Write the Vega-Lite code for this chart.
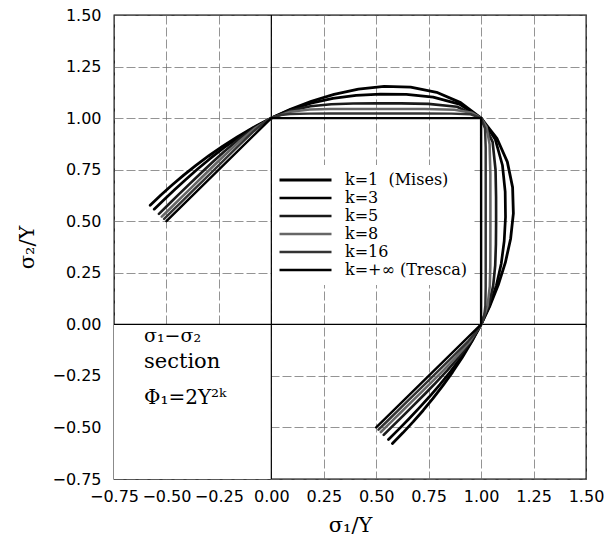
{
  "$schema": "https://vega.github.io/schema/vega-lite/v6.json",
  "width": 472,
  "height": 464,
  "autosize": "none",
  "padding": {"left": 114, "top": 15, "right": 18, "bottom": 67},
  "background": "white",
  "config": {
    "view": {"stroke": "#000", "strokeWidth": 1.3},
    "axis": {
      "grid": true, "gridColor": "#666", "gridWidth": 0.7, "gridDash": [9, 3],
      "domain": false, "ticks": false,
      "labelFont": "DejaVu Sans", "labelFontSize": 16, "labelColor": "#000",
      "labelOverlap": false, "labelFlush": false,
      "titleFont": "DejaVu Serif", "titleFontSize": 21, "titleFontWeight": "normal", "titleColor": "#000"
    }
  },
  "datasets": {
    "curves": [
      {"k":"1","x":0.5774,"y":-0.5774},{"k":"1","x":0.6271,"y":-0.5262},{"k":"1","x":0.6757,"y":-0.4731},{"k":"1","x":0.7235,"y":-0.4177},{"k":"1","x":0.7707,"y":-0.3594},{"k":"1","x":0.8175,"y":-0.2975},{"k":"1","x":0.8640,"y":-0.2315},{"k":"1","x":0.9101,"y":-0.1605},{"k":"1","x":0.9556,"y":-0.0836},{"k":"1","x":1,"y":0},{"k":"1","x":1.0425,"y":0.0912},{"k":"1","x":1.0816,"y":0.1907},{"k":"1","x":1.1154,"y":0.2989},{"k":"1","x":1.1407,"y":0.4152},{"k":"1","x":1.1538,"y":0.5380},{"k":"1","x":1.1501,"y":0.6640},{"k":"1","x":1.1250,"y":0.7878},{"k":"1","x":1.0752,"y":0.9022},{"k":"1","x":1,"y":1},
      {"k":"1","x":0.9022,"y":1.0752},{"k":"1","x":0.7878,"y":1.1250},{"k":"1","x":0.6640,"y":1.1501},{"k":"1","x":0.5380,"y":1.1538},{"k":"1","x":0.4152,"y":1.1407},{"k":"1","x":0.2989,"y":1.1154},{"k":"1","x":0.1907,"y":1.0816},{"k":"1","x":0.0912,"y":1.0425},{"k":"1","x":0,"y":1},{"k":"1","x":-0.0836,"y":0.9556},{"k":"1","x":-0.1605,"y":0.9101},{"k":"1","x":-0.2315,"y":0.8640},{"k":"1","x":-0.2975,"y":0.8175},{"k":"1","x":-0.3594,"y":0.7707},{"k":"1","x":-0.4177,"y":0.7235},{"k":"1","x":-0.4731,"y":0.6757},{"k":"1","x":-0.5262,"y":0.6271},{"k":"1","x":-0.5774,"y":0.5774},

      {"k":"3","x":0.5584,"y":-0.5584},{"k":"3","x":0.6069,"y":-0.5092},{"k":"3","x":0.6552,"y":-0.4588},{"k":"3","x":0.7039,"y":-0.4064},{"k":"3","x":0.7533,"y":-0.3513},{"k":"3","x":0.8033,"y":-0.2924},{"k":"3","x":0.8540,"y":-0.2288},{"k":"3","x":0.9046,"y":-0.1595},{"k":"3","x":0.9539,"y":-0.0835},{"k":"3","x":1,"y":0},{"k":"3","x":1.0404,"y":0.0910},{"k":"3","x":1.0728,"y":0.1892},{"k":"3","x":1.0959,"y":0.2937},{"k":"3","x":1.1101,"y":0.4041},{"k":"3","x":1.1163,"y":0.5206},{"k":"3","x":1.1147,"y":0.6436},{"k":"3","x":1.1017,"y":0.7714},{"k":"3","x":1.0678,"y":0.8960},{"k":"3","x":1,"y":1},
      {"k":"3","x":0.8960,"y":1.0678},{"k":"3","x":0.7714,"y":1.1017},{"k":"3","x":0.6436,"y":1.1147},{"k":"3","x":0.5206,"y":1.1163},{"k":"3","x":0.4041,"y":1.1101},{"k":"3","x":0.2937,"y":1.0959},{"k":"3","x":0.1892,"y":1.0728},{"k":"3","x":0.0910,"y":1.0404},{"k":"3","x":0,"y":1},{"k":"3","x":-0.0835,"y":0.9539},{"k":"3","x":-0.1595,"y":0.9046},{"k":"3","x":-0.2288,"y":0.8540},{"k":"3","x":-0.2924,"y":0.8033},{"k":"3","x":-0.3513,"y":0.7533},{"k":"3","x":-0.4064,"y":0.7039},{"k":"3","x":-0.4588,"y":0.6552},{"k":"3","x":-0.5092,"y":0.6069},{"k":"3","x":-0.5584,"y":0.5584},

      {"k":"5","x":0.5358,"y":-0.5358},{"k":"5","x":0.5826,"y":-0.4889},{"k":"5","x":0.6301,"y":-0.4412},{"k":"5","x":0.6788,"y":-0.3919},{"k":"5","x":0.7294,"y":-0.3401},{"k":"5","x":0.7823,"y":-0.2847},{"k":"5","x":0.8378,"y":-0.2245},{"k":"5","x":0.8949,"y":-0.1578},{"k":"5","x":0.9508,"y":-0.0832},{"k":"5","x":1,"y":0},{"k":"5","x":1.0363,"y":0.0907},{"k":"5","x":1.0575,"y":0.1865},{"k":"5","x":1.0672,"y":0.2859},{"k":"5","x":1.0706,"y":0.3897},{"k":"5","x":1.0715,"y":0.4997},{"k":"5","x":1.0713,"y":0.6185},{"k":"5","x":1.0688,"y":0.7484},{"k":"5","x":1.0548,"y":0.8851},{"k":"5","x":1,"y":1},
      {"k":"5","x":0.8851,"y":1.0548},{"k":"5","x":0.7484,"y":1.0688},{"k":"5","x":0.6185,"y":1.0713},{"k":"5","x":0.4997,"y":1.0715},{"k":"5","x":0.3897,"y":1.0706},{"k":"5","x":0.2859,"y":1.0672},{"k":"5","x":0.1865,"y":1.0575},{"k":"5","x":0.0907,"y":1.0363},{"k":"5","x":0,"y":1},{"k":"5","x":-0.0832,"y":0.9508},{"k":"5","x":-0.1578,"y":0.8949},{"k":"5","x":-0.2245,"y":0.8378},{"k":"5","x":-0.2847,"y":0.7823},{"k":"5","x":-0.3401,"y":0.7294},{"k":"5","x":-0.3919,"y":0.6788},{"k":"5","x":-0.4412,"y":0.6301},{"k":"5","x":-0.4889,"y":0.5826},{"k":"5","x":-0.5358,"y":0.5358},

      {"k":"8","x":0.5222,"y":-0.5222},{"k":"8","x":0.5678,"y":-0.4765},{"k":"8","x":0.6142,"y":-0.4301},{"k":"8","x":0.6620,"y":-0.3822},{"k":"8","x":0.7121,"y":-0.3321},{"k":"8","x":0.7653,"y":-0.2786},{"k":"8","x":0.8225,"y":-0.2204},{"k":"8","x":0.8838,"y":-0.1558},{"k":"8","x":0.9464,"y":-0.0828},{"k":"8","x":1,"y":0},{"k":"8","x":1.0308,"y":0.0902},{"k":"8","x":1.0414,"y":0.1836},{"k":"8","x":1.0438,"y":0.2797},{"k":"8","x":1.0442,"y":0.3801},{"k":"8","x":1.0443,"y":0.4870},{"k":"8","x":1.0443,"y":0.6029},{"k":"8","x":1.0441,"y":0.7311},{"k":"8","x":1.0404,"y":0.8730},{"k":"8","x":1.0260,"y":0.9567},{"k":"8","x":1,"y":1},
      {"k":"8","x":0.9567,"y":1.0260},{"k":"8","x":0.8730,"y":1.0404},{"k":"8","x":0.7311,"y":1.0441},{"k":"8","x":0.6029,"y":1.0443},{"k":"8","x":0.4870,"y":1.0443},{"k":"8","x":0.3801,"y":1.0442},{"k":"8","x":0.2797,"y":1.0438},{"k":"8","x":0.1836,"y":1.0414},{"k":"8","x":0.0902,"y":1.0308},{"k":"8","x":0,"y":1},{"k":"8","x":-0.0828,"y":0.9464},{"k":"8","x":-0.1558,"y":0.8838},{"k":"8","x":-0.2204,"y":0.8225},{"k":"8","x":-0.2786,"y":0.7653},{"k":"8","x":-0.3321,"y":0.7121},{"k":"8","x":-0.3822,"y":0.6620},{"k":"8","x":-0.4301,"y":0.6142},{"k":"8","x":-0.4765,"y":0.5678},{"k":"8","x":-0.5222,"y":0.5222},

      {"k":"16","x":0.5110,"y":-0.5110},{"k":"16","x":0.5557,"y":-0.4663},{"k":"16","x":0.6010,"y":-0.4209},{"k":"16","x":0.6479,"y":-0.3740},{"k":"16","x":0.6969,"y":-0.3250},{"k":"16","x":0.7492,"y":-0.2727},{"k":"16","x":0.8059,"y":-0.2160},{"k":"16","x":0.8686,"y":-0.1532},{"k":"16","x":0.9378,"y":-0.0821},{"k":"16","x":0.9722,"y":-0.0425},{"k":"16","x":1,"y":0},{"k":"16","x":1.0151,"y":0.0443},{"k":"16","x":1.0202,"y":0.0893},{"k":"16","x":1.0218,"y":0.1802},{"k":"16","x":1.0219,"y":0.2738},{"k":"16","x":1.0219,"y":0.3719},{"k":"16","x":1.0219,"y":0.4765},{"k":"16","x":1.0219,"y":0.5900},{"k":"16","x":1.0219,"y":0.7156},{"k":"16","x":1.0218,"y":0.8574},{"k":"16","x":1.0187,"y":0.9499},{"k":"16","x":1,"y":1},
      {"k":"16","x":0.9499,"y":1.0187},{"k":"16","x":0.8574,"y":1.0218},{"k":"16","x":0.7156,"y":1.0219},{"k":"16","x":0.5900,"y":1.0219},{"k":"16","x":0.4765,"y":1.0219},{"k":"16","x":0.3719,"y":1.0219},{"k":"16","x":0.2738,"y":1.0219},{"k":"16","x":0.1802,"y":1.0218},{"k":"16","x":0.0893,"y":1.0202},{"k":"16","x":0.0443,"y":1.0151},{"k":"16","x":0,"y":1},{"k":"16","x":-0.0425,"y":0.9722},{"k":"16","x":-0.0821,"y":0.9378},{"k":"16","x":-0.1532,"y":0.8686},{"k":"16","x":-0.2160,"y":0.8059},{"k":"16","x":-0.2727,"y":0.7492},{"k":"16","x":-0.3250,"y":0.6969},{"k":"16","x":-0.3740,"y":0.6479},{"k":"16","x":-0.4209,"y":0.6010},{"k":"16","x":-0.4663,"y":0.5557},{"k":"16","x":-0.5110,"y":0.5110},

      {"k":"inf","x":0.5,"y":-0.5},{"k":"inf","x":1,"y":0},{"k":"inf","x":1,"y":1},{"k":"inf","x":0,"y":1},{"k":"inf","x":-0.5,"y":0.5}
    ]
  },
  "layer": [
    {
      "data": {"values": [{}]},
      "mark": {"type": "rect", "color": "white"},
      "encoding": {
        "x": {"datum": -0.75, "type": "quantitative"},
        "x2": {"datum": 0},
        "y": {"datum": -0.75, "type": "quantitative"},
        "y2": {"datum": 0}
      }
    },
    {
      "data": {"values": [{}]},
      "mark": {"type": "rule", "color": "#000", "strokeWidth": 1.2},
      "encoding": {"x": {"datum": 0, "type": "quantitative"}}
    },
    {
      "data": {"values": [{}]},
      "mark": {"type": "rule", "color": "#000", "strokeWidth": 1.2},
      "encoding": {"y": {"datum": 0, "type": "quantitative"}}
    },
    {
      "data": {"name": "curves"},
      "mark": {"type": "line", "strokeJoin": "round", "strokeCap": "round"},
      "encoding": {
        "x": {
          "field": "x", "type": "quantitative",
          "scale": {"domain": [-0.75, 1.5], "nice": false, "zero": false},
          "axis": {"title": "σ₁/Y", "values": [-0.75, -0.5, -0.25, 0, 0.25, 0.5, 0.75, 1, 1.25, 1.5], "format": ".2f", "labelPadding": 9, "titlePadding": 10}
        },
        "y": {
          "field": "y", "type": "quantitative",
          "scale": {"domain": [-0.75, 1.5], "nice": false, "zero": false},
          "axis": {"title": "σ₂/Y", "values": [-0.75, -0.5, -0.25, 0, 0.25, 0.5, 0.75, 1, 1.25, 1.5], "format": ".2f", "labelPadding": 13, "titlePadding": 14}
        },
        "order": {"value": null},
        "color": {
          "field": "k", "type": "nominal",
          "scale": {"domain": ["1", "3", "5", "8", "16", "inf"], "range": ["#000000", "#000000", "#1a1a1a", "#666666", "#333333", "#000000"]},
          "legend": {
            "orient": "none", "legendX": 158, "legendY": 150, "title": null,
            "symbolType": "stroke", "symbolSize": 2704, "clipHeight": 18, "rowPadding": 0,
            "labelOffset": 12, "labelFont": "DejaVu Serif", "labelFontSize": 16, "labelColor": "#000",
            "fillColor": "white", "padding": 6,
            "labelExpr": "datum.value == '1' ? 'k=1\u00a0\u00a0(Mises)' : datum.value == 'inf' ? 'k=+∞\u00a0(Tresca)' : 'k=' + datum.value",
            "encode": {"symbols": {"update": {"strokeWidth": {"scale": "strokeWidth", "field": "value"}}}}
          }
        },
        "strokeWidth": {
          "field": "k", "type": "nominal",
          "scale": {"domain": ["1", "3", "5", "8", "16", "inf"], "range": [2.8, 2.4, 1.8, 1.4, 1.0, 1.1]},
          "legend": {
            "orient": "none", "legendX": 158, "legendY": 150, "title": null,
            "symbolType": "stroke", "symbolSize": 2704, "clipHeight": 18, "rowPadding": 0,
            "labelOffset": 12, "labelFont": "DejaVu Serif", "labelFontSize": 16, "labelColor": "#000",
            "fillColor": "white", "padding": 6,
            "labelExpr": "datum.value == '1' ? 'k=1\u00a0\u00a0(Mises)' : datum.value == 'inf' ? 'k=+∞\u00a0(Tresca)' : 'k=' + datum.value",
            "encode": {"symbols": {"update": {"strokeWidth": {"scale": "strokeWidth", "field": "value"}}}}
          }
        }
      }
    },
    {
      "data": {"values": [{}]},
      "mark": {"type": "text", "text": "σ₁−σ₂", "font": "DejaVu Serif", "fontSize": 19, "align": "left", "baseline": "alphabetic", "color": "#000"},
      "encoding": {"x": {"datum": -0.607, "type": "quantitative"}, "y": {"datum": -0.085, "type": "quantitative"}}
    },
    {
      "data": {"values": [{}]},
      "mark": {"type": "text", "text": "section", "font": "DejaVu Serif", "fontSize": 21, "align": "left", "baseline": "alphabetic", "color": "#000"},
      "encoding": {"x": {"datum": -0.607, "type": "quantitative"}, "y": {"datum": -0.21, "type": "quantitative"}}
    },
    {
      "data": {"values": [{}]},
      "mark": {"type": "text", "text": "Φ₁=2Y²ᵏ", "font": "DejaVu Serif", "fontSize": 20, "align": "left", "baseline": "alphabetic", "color": "#000"},
      "encoding": {"x": {"datum": -0.607, "type": "quantitative"}, "y": {"datum": -0.388, "type": "quantitative"}}
    }
  ]
}
